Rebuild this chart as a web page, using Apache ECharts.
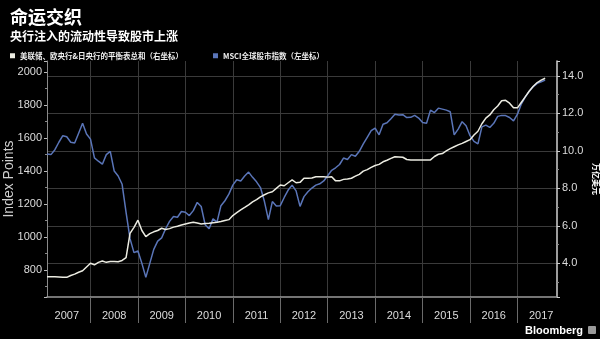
<!DOCTYPE html>
<html>
<head>
<meta charset="utf-8">
<script src="https://cdn.jsdelivr.net/npm/echarts@6/dist/echarts.min.js"></script>
<style>
  html, body { margin: 0; padding: 0; background: #000; }
  #chart { width: 600px; height: 339px; }
</style>
</head>
<body>
<div id="chart"></div>
<script>
// Monthly axis: Feb 2007 .. Nov 2017
const firstYear = 2007, firstMonth = 2, monthCount = 130;
const months = [];
for (let i = 0; i < monthCount; i++) {
  const m = firstMonth - 1 + i;
  const y = firstYear + Math.floor(m / 12);
  const mm = (m % 12) + 1;
  months.push(y + '-' + (mm < 10 ? '0' + mm : '' + mm));
}

// Fed + ECB + BoJ combined balance sheet, trillion USD (right axis)
const balanceSheet = [
  3.28, 3.28, 3.28, 3.27, 3.26, 3.25, 3.35, 3.42, 3.52, 3.60, 3.80,
  4.00, 3.92, 4.05, 4.12, 4.05, 4.09, 4.10, 4.08, 4.15, 4.30, 5.60, 5.92,
  6.30, 5.75, 5.42, 5.58, 5.68, 5.75, 5.87, 5.80, 5.85, 5.93, 5.98, 6.04,
  6.10, 6.15, 6.19, 6.15, 6.10, 6.13, 6.14, 6.17, 6.19, 6.23, 6.28, 6.33,
  6.55, 6.70, 6.85, 6.98, 7.12, 7.28, 7.40, 7.55, 7.66, 7.76, 7.82, 8.00,
  8.18, 8.14, 8.30, 8.45, 8.30, 8.32, 8.54, 8.54, 8.55, 8.62, 8.62, 8.62,
  8.60, 8.62, 8.40, 8.40, 8.48, 8.50, 8.54, 8.65, 8.75, 8.92, 9.00, 9.12,
  9.22, 9.28, 9.42, 9.50, 9.60, 9.69, 9.68, 9.66, 9.54, 9.52, 9.52, 9.52,
  9.52, 9.52, 9.52, 9.70, 9.82, 9.86, 10.00, 10.12, 10.22, 10.32, 10.40, 10.50,
  10.60, 10.85, 11.05, 11.45, 11.75, 11.92, 12.20, 12.40, 12.68, 12.70, 12.55, 12.30,
  12.30, 12.60, 12.90, 13.20, 13.45, 13.65, 13.78, 13.88
];

// MSCI World index, index points (left axis)
const msciWorld = [
  1503, 1500, 1530, 1575, 1615, 1608, 1575, 1570, 1630, 1690, 1625,
  1594, 1480, 1460, 1442, 1500, 1520, 1400, 1370, 1320, 1150, 990, 905,
  915, 840, 755, 840, 925, 975, 995, 1050, 1095, 1125, 1120, 1155,
  1150, 1130, 1160, 1210, 1185, 1075, 1050, 1110, 1090, 1190, 1220, 1260,
  1315, 1347, 1340, 1370, 1394, 1362, 1335, 1300, 1215, 1105, 1215, 1188,
  1190, 1240, 1285, 1315, 1280, 1186, 1245, 1275, 1297, 1315, 1323, 1340,
  1372, 1405, 1420, 1440, 1479, 1470, 1500, 1490, 1520, 1565, 1605, 1645,
  1661, 1620, 1684, 1693, 1718, 1745, 1740, 1742, 1725, 1726, 1738, 1722,
  1695, 1690, 1770, 1755, 1782, 1776, 1770, 1760, 1620, 1655, 1700, 1675,
  1615, 1580, 1565, 1668, 1679, 1665, 1690, 1732, 1738, 1737, 1725, 1705,
  1745, 1808, 1850, 1885, 1913, 1932, 1942, 1952
];

const nameBalance = '美联储、欧央行&日央行的平衡表总和（右坐标）';
const nameMsci = 'MSCI全球股市指数（左坐标）';

const latinFont = '"Liberation Sans", Arial, "Noto Sans CJK SC", sans-serif';
const cjkFont = '"Noto Sans CJK SC", "Liberation Sans", sans-serif';
const gridColor = '#3a3a3a';
const whiteLine = '#ecece2';
const blueLine = '#5a75b8';

const isYearStart = (i, v) => v.slice(5) === '01';
const isMidYear = (i, v) => v.slice(5) === '07';

const chart = echarts.init(document.getElementById('chart'), null, { renderer: 'canvas' });
chart.setOption({
  backgroundColor: '#000',
  animation: false,
  title: [
    { text: '命运交织', left: 5, top: 3,
      textStyle: { color: '#fff', fontSize: 18, fontWeight: 'bold', fontFamily: cjkFont } },
    { text: '央行注入的流动性导致股市上涨', left: 5, top: 25,
      textStyle: { color: '#fff', fontSize: 12, fontWeight: 'bold', fontFamily: cjkFont } }
  ],
  legend: [
    { data: [nameBalance], left: 5, top: 47, icon: 'rect', itemWidth: 5, itemHeight: 5,
      textStyle: { color: '#f0f0f0', fontSize: 7.5, fontWeight: 'bold', fontFamily: cjkFont } },
    { data: [nameMsci], left: 208, top: 47, icon: 'rect', itemWidth: 5, itemHeight: 5,
      textStyle: { color: '#f0f0f0', fontSize: 7.5, fontWeight: 'bold', fontFamily: cjkFont } }
  ],
  grid: { left: 47, right: 43, top: 61, bottom: 42, containLabel: false, outerBoundsMode: 'none' },
  xAxis: {
    type: 'category',
    data: months,
    boundaryGap: false,
    axisLine: { show: true, lineStyle: { color: '#9a9a9a', width: 1.5 } },
    axisTick: { show: true, interval: isYearStart, length: 26, lineStyle: { color: '#6a6a6a' } },
    axisLabel: { interval: isMidYear, formatter: v => v.slice(0, 4), color: '#dcdcdc',
      fontSize: 11, fontFamily: latinFont, margin: 13 },
    splitLine: { show: true, interval: isYearStart, lineStyle: { color: gridColor, width: 1 } }
  },
  yAxis: [
    {
      type: 'value', position: 'left', min: 636, max: 2068, splitNumber: 7,
      name: 'Index Points', nameLocation: 'middle', nameGap: 30.5, nameMoveOverlap: false,
      nameTextStyle: { color: '#cfcfcf', fontSize: 14, fontFamily: latinFont },
      axisLine: { show: true, lineStyle: { color: '#8a8a8a' } },
      axisTick: { show: true, length: 3, lineStyle: { color: '#bbb' } },
      minorTick: { show: true, splitNumber: 2, length: 2, lineStyle: { color: '#888' } },
      axisLabel: { color: '#dcdcdc', fontSize: 11, fontFamily: latinFont, margin: 5,
        formatter: v => (v % 200 === 0 ? String(v) : '') },
      splitLine: { show: false }
    },
    {
      type: 'value', position: 'right', min: 2.2, max: 14.8, splitNumber: 6,
      name: '万亿美元', nameLocation: 'middle', nameGap: 35, nameRotate: -90, nameMoveOverlap: false,
      nameTextStyle: { color: '#fff', fontSize: 8, fontWeight: 'bold', fontFamily: cjkFont },
      axisLine: { show: true, lineStyle: { color: '#d0d0d0', width: 1.5 } },
      axisTick: { show: true, length: 3, lineStyle: { color: '#ccc' } },
      minorTick: { show: true, splitNumber: 2, length: 2, lineStyle: { color: '#888' } },
      axisLabel: { color: '#dcdcdc', fontSize: 11, fontFamily: latinFont, margin: 5,
        formatter: v => (Math.abs(v % 2) < 1e-9 ? v.toFixed(1) : '') },
      splitLine: { show: true, showMinLine: false, showMaxLine: false,
        lineStyle: { color: gridColor, width: 1 } }
    }
  ],
  series: [
    {
      name: nameMsci, type: 'line', yAxisIndex: 0, data: msciWorld,
      showSymbol: false, symbol: 'none', color: blueLine,
      lineStyle: { color: blueLine, width: 1.5 }, z: 2
    },
    {
      name: nameBalance, type: 'line', yAxisIndex: 1, data: balanceSheet,
      showSymbol: false, symbol: 'none', color: whiteLine,
      lineStyle: { color: whiteLine, width: 1.5 }, z: 3
    }
  ],
  graphic: [
    { type: 'text', right: 17, bottom: 3,
      style: { text: 'Bloomberg', fill: '#fff', font: 'bold 11px "Liberation Sans", Arial, sans-serif' } },
    { type: 'rect', right: 4, bottom: 5, shape: { width: 8, height: 8, r: 1 },
      style: { fill: '#9a9a9a' } }
  ]
});
</script>
</body>
</html>
